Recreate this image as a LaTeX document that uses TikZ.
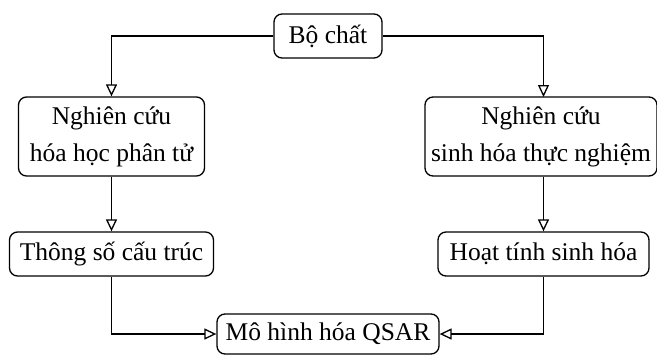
\documentclass[tikz,border=0pt]{standalone}
\usepackage{fontspec}
\setmainfont{Liberation Serif}
\usetikzlibrary{arrows.meta}
\begin{document}
\begin{tikzpicture}[x=1pt,y=-1pt,
  box/.style={draw, line width=1.3pt, rounded corners=8pt, align=center, inner sep=0pt,
    font=\fontsize{25.5}{37}\selectfont},
  conn/.style={line width=1.3pt, -{Triangle[open,length=12pt,width=11pt]}}]
\useasboundingbox (0,0) rectangle (657,354);
\node[box, minimum width=108pt, minimum height=44pt] (bo) at (328,36) {Bộ chất};
\node[box, minimum width=186pt, minimum height=79pt] (nl) at (111.5,136.5) {Nghiên cứu\\hóa học phân tử};
\node[box, minimum width=232pt, minimum height=79pt] (nr) at (541,136.5) {Nghiên cứu\\sinh hóa thực nghiệm};
\node[box, minimum width=204pt, minimum height=44pt] (ts) at (111.5,254) {Thông số cấu trúc};
\node[box, minimum width=211pt, minimum height=44pt] (ht) at (543.5,254) {Hoạt tính sinh hóa};
\node[box, minimum width=222pt, minimum height=40pt] (mh) at (328,334) {Mô hình hóa QSAR};
\coordinate (nrin) at (543.5,97);
\draw[conn] (bo.west) -| (nl.north);
\draw[conn] (bo.east) -| (nrin);
\draw[conn] (nl.south) -- (ts.north);
\draw[conn] (ht.north |- nr.south) -- (ht.north);
\draw[conn] (ts.south) |- (mh.west);
\draw[conn] (ht.south) |- (mh.east);
\end{tikzpicture}
\end{document}
